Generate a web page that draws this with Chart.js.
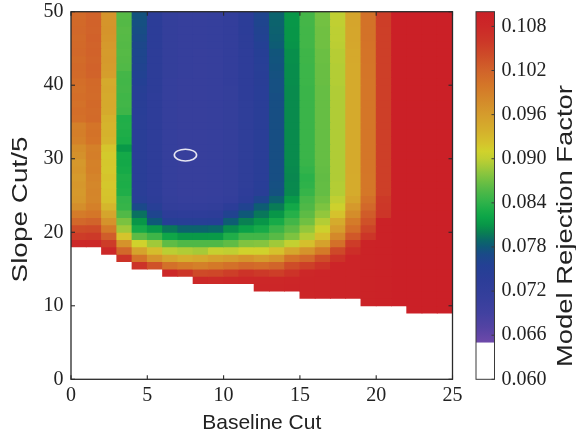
<!DOCTYPE html>
<html>
<head>
<meta charset="utf-8">
<script src="https://cdn.jsdelivr.net/npm/chart.js@4.4.1/dist/chart.umd.min.js"></script>
<style>
  html, body { margin: 0; padding: 0; background: #ffffff; }
  #wrap { position: relative; width: 576px; height: 438px; }
</style>
</head>
<body>
<div id="wrap"><canvas id="c" width="576" height="438"></canvas></div>
<script>
const _ = null;

// Left edge of each 1-wide Baseline Cut cell
const baselineCuts = [0,1,2,3,4,5,6,7,8,9,10,11,12,13,14,15,16,17,18,19,20,21,22,23,24];
// Lower edge of each 1-tall Slope Cut/5 row
const slopeCuts = [0,1,2,3,4,5,6,7,8,9,10,11,12,13,14,15,16,17,18,19,20,21,22,23,24,
                   25,26,27,28,29,30,31,32,33,34,35,36,37,38,39,40,41,42,43,44,45,46,47,48,49];

// Model rejection factor x 1000, one row per slope cut (bottom -> top), one value per baseline cut.
// null = below colour range (drawn white)
const rejectionMilli = [
/* 0*/ [_,_,_,_,_,_,_,_,_,_,_,_,_,_,_,_,_,_,_,_,_,_,_,_,_],
/* 1*/ [_,_,_,_,_,_,_,_,_,_,_,_,_,_,_,_,_,_,_,_,_,_,_,_,_],
/* 2*/ [_,_,_,_,_,_,_,_,_,_,_,_,_,_,_,_,_,_,_,_,_,_,_,_,_],
/* 3*/ [_,_,_,_,_,_,_,_,_,_,_,_,_,_,_,_,_,_,_,_,_,_,_,_,_],
/* 4*/ [_,_,_,_,_,_,_,_,_,_,_,_,_,_,_,_,_,_,_,_,_,_,_,_,_],
/* 5*/ [_,_,_,_,_,_,_,_,_,_,_,_,_,_,_,_,_,_,_,_,_,_,_,_,_],
/* 6*/ [_,_,_,_,_,_,_,_,_,_,_,_,_,_,_,_,_,_,_,_,_,_,_,_,_],
/* 7*/ [_,_,_,_,_,_,_,_,_,_,_,_,_,_,_,_,_,_,_,_,_,_,_,_,_],
/* 8*/ [_,_,_,_,_,_,_,_,_,_,_,_,_,_,_,_,_,_,_,_,_,_,_,_,_],
/* 9*/ [_,_,_,_,_,_,_,_,_,_,_,_,_,_,_,_,_,_,_,_,_,_,110,110,110],
/*10*/ [_,_,_,_,_,_,_,_,_,_,_,_,_,_,_,_,_,_,_,109.2,109.4,110,110,110,110],
/*11*/ [_,_,_,_,_,_,_,_,_,_,_,_,_,_,_,108.5,108.8,109,109,109.2,109.4,110,110,110,110],
/*12*/ [_,_,_,_,_,_,_,_,_,_,_,_,108.5,108.6,108.8,108.8,108.8,109,109,109.2,109.4,110,110,110,110],
/*13*/ [_,_,_,_,_,_,_,_,108,107.8,108,108.2,108.2,108.3,108.6,108.8,108.8,109,109,109.2,109.4,110,110,110,110],
/*14*/ [_,_,_,_,_,_,108,106.3,104.2,104.5,105.3,106.5,105.8,105.3,106.5,108.3,108.8,109,109,109.2,109.4,110,110,110,110],
/*15*/ [_,_,_,_,106.5,103.5,100.5,99.6,99,99.7,100.5,101.5,101,101.8,104,105.2,106.6,109,109,109.2,109.4,110,110,110,110],
/*16*/ [_,_,_,106.5,100.3,96.8,95,94,94.6,95.4,96,96.8,96,97,100.3,101.5,104,106.6,109,109.2,109.4,110,110,110,110],
/*17*/ [_,_,108,101.5,95.2,92.6,89.8,89.4,89,90.4,90,91,91,92.3,94.8,97,99.6,104.3,107.2,109.2,109.4,110,110,110,110],
/*18*/ [108,108,105.5,97,91,88.8,86.3,85.6,85.6,85.6,86.3,87.6,87.8,88.8,90.2,92.5,95.5,100.6,105.5,109.2,109.4,110,110,110,110],
/*19*/ [105.5,105.8,102.5,92,86.2,84.8,82.2,81.2,81.2,81.3,83.3,85,85,86,87.5,89.5,92.5,98,103,106.2,109.4,110,110,110,110],
/*20*/ [104,104.2,99.6,88.8,82.7,81.2,79.6,78.6,78.6,78.9,80.6,81.8,82.8,84.6,86.2,88.3,90.8,95.8,100.8,104.8,109.4,110,110,110,110],
/*21*/ [101.5,102,97,87.4,81,78,75,74.8,74.8,75,78.3,80,81,82.8,85,87,89.5,94.3,99.5,103.6,109.4,110,110,110,110],
/*22*/ [99.5,100,95,85.7,79.3,76.3,73.2,73,73,73.2,76,78,79.6,81,83.6,86.2,88.3,92.2,97.6,102.6,106.3,110,110,110,110],
/*23*/ [97.5,99,93.3,84.4,76.8,74.5,72,71.8,71.8,72,73.5,76,78.3,79.8,82.5,85.6,87.5,90.8,96.3,101.5,106,110,110,110,110],
/*24*/ [96.5,98.3,92.2,84.2,74.5,73.3,71.4,71,71,71.2,71.8,73.5,76.2,78.5,81.2,85.2,86.9,90,95,100.6,105.8,110,110,110,110],
/*25*/ [96.3,98.4,92,83.3,74,73.1,71.3,70.9,70.8,71,71.6,72.9,74.3,77.5,80.4,84.4,86.5,89.5,94.3,99.9,105.2,110,110,110,110],
/*26*/ [96.5,98.2,91.8,83.1,74,73.1,71.3,70.9,70.8,71,71.6,72.8,74.2,77.4,80.4,84,86.5,89.5,94.3,99.9,105.2,110,110,110,110],
/*27*/ [96.2,98.5,92,83.2,73.9,73,71.2,70.9,70.8,71,71.6,72.8,74.1,77.3,80.3,83.8,86.4,89.4,94.3,99.9,105.2,110,110,110,110],
/*28*/ [96.6,99,91.7,82.7,74,73,71.2,70.8,70.8,71,71.6,72.8,74.1,77.3,80.4,84.2,86.5,89.4,94.4,100,105.2,110,110,110,110],
/*29*/ [96.4,98.8,91.8,82.5,74,73.1,71.3,70.9,70.8,71,71.6,72.8,74.1,77.3,80.5,84.5,86.6,89.4,94.4,100,105.2,110,110,110,110],
/*30*/ [97.2,99.2,91.6,82.6,73.9,73.1,71.3,70.9,70.8,71,71.6,72.8,74.1,77.3,80.5,84.6,86.6,89.4,94.4,100,105.2,110,110,110,110],
/*31*/ [97.6,99,91.9,81.2,74,73,71.2,70.8,70.8,71,71.6,72.8,74.1,77.3,80.5,84.6,86.6,89.4,94.4,100,105.2,110,110,110,110],
/*32*/ [98.8,100.2,93.4,83,74.1,73.1,71.3,70.9,70.8,71,71.6,72.8,74.1,77.3,80.5,84.6,86.6,89.4,94.4,100,105.2,110,110,110,110],
/*33*/ [99.2,100.4,93.6,83.2,74,73.1,71.3,70.9,70.8,71,71.6,72.8,74.1,77.3,80.5,84.6,86.6,89.4,94.4,100,105.2,110,110,110,110],
/*34*/ [99,100.2,93.5,83.4,74,73.1,71.3,70.9,70.8,71,71.6,72.8,74.1,77.3,80.5,84.6,86.6,89.4,94.4,100,105.2,110,110,110,110],
/*35*/ [100.6,101.3,93.7,83.3,74.1,73.1,71.3,70.9,70.9,71.1,71.6,72.8,74.1,77.3,80.5,84.6,86.6,89.4,94.4,100,105.2,110,110,110,110],
/*36*/ [100.8,101.2,94.4,84.8,74.2,73.1,71.3,70.9,70.9,71.1,71.6,72.8,74.1,77.3,80.5,84.6,86.6,89.4,94.4,100,105.2,110,110,110,110],
/*37*/ [100.5,101.4,94.6,85,74.3,73.1,71.3,70.9,70.9,71.1,71.6,72.8,74.1,77.3,80.5,84.6,86.6,89.4,94.4,100,105.2,110,110,110,110],
/*38*/ [100.8,101.2,94.5,84.9,74.4,73.1,71.3,70.9,70.9,71.1,71.6,72.9,74.2,77.3,80.5,84.6,86.6,89.4,94.4,100,105.2,110,110,110,110],
/*39*/ [100.6,101.3,94.7,85.1,74.8,73.2,71.3,70.9,70.9,71.1,71.6,72.9,74.2,77.4,80.5,84.6,86.6,89.4,94.4,100,105.2,110,110,110,110],
/*40*/ [100.8,101.4,94.5,85,75.5,73.2,71.3,70.9,70.9,71.1,71.7,72.9,74.3,77.4,80.6,84.7,86.7,89.5,94.5,100,105.2,110,110,110,110],
/*41*/ [101.3,102,95.8,85.1,75.8,73.2,71.4,71,70.9,71.1,71.7,73,74.4,77.5,80.6,84.7,86.7,89.5,94.5,100.1,105.2,110,110,110,110],
/*42*/ [101.4,102.1,96,85.7,76,73.3,71.4,71,70.9,71.1,71.7,73,74.5,77.6,80.6,84.7,86.7,89.5,94.5,100.1,105.2,110,110,110,110],
/*43*/ [101.2,101.9,96.2,85.8,76.2,73.3,71.4,71,70.9,71.1,71.7,73,74.7,77.7,80.7,84.8,86.8,89.6,94.6,100.2,105.2,110,110,110,110],
/*44*/ [101.5,102.1,96.1,85.9,76.4,73.3,71.4,71,70.9,71.1,71.7,73.1,75,77.8,80.7,84.8,86.8,89.6,94.6,100.2,105.2,110,110,110,110],
/*45*/ [101.4,102,96.3,85.8,76.6,73.4,71.4,71,71,71.2,71.8,73.3,75.5,78.2,80.9,85,87,89.8,94.8,100.3,105.2,110,110,110,110],
/*46*/ [101.3,102.2,96.6,85.9,77,73.4,71.4,71,71,71.2,71.8,73.3,75.8,78.4,81,85,87,89.9,94.9,100.4,105.2,110,110,110,110],
/*47*/ [101.5,102,96.8,86,77.2,73.5,71.5,71.1,71,71.2,71.8,73.4,76,78.5,81,85,87,89.9,94.9,100.4,105.2,110,110,110,110],
/*48*/ [101.4,102.1,96.7,85.8,77.4,73.5,71.5,71.1,71,71.2,71.8,73.4,76.2,78.6,81.1,85.1,87.1,90,95,100.4,105.3,110,110,110,110],
/*49*/ [101.3,102,96.8,85.9,77.6,73.6,71.5,71.1,71,71.2,71.9,73.5,76.3,78.6,81.1,85.1,87.1,90,95,100.5,105.3,110,110,110,110]
];

const xTickValues = [0, 5, 10, 15, 20, 25];
const yTickValues = [0, 10, 20, 30, 40, 50];
const cbTickValues = [0.060, 0.066, 0.072, 0.078, 0.084, 0.090, 0.096, 0.102, 0.108];
const optimumCut = [7.5, 30.5];

// ---- colour map (style) ----
const CB_MIN = 0.060, CB_LOW = 0.065, CB_MAX = 0.110;
const cmap = [
  [0.065,'#6E49AA'],[0.067,'#5443A3'],[0.069,'#4141A0'],[0.071,'#363F9C'],[0.0735,'#2C3D98'],
  [0.0755,'#244094'],[0.077,'#1A4A88'],[0.078,'#0F5878'],[0.079,'#0A6A66'],[0.080,'#098052'],
  [0.081,'#089648'],[0.082,'#0CA448'],[0.083,'#1AAC48'],[0.084,'#2EB24A'],[0.085,'#42B648'],
  [0.086,'#58BA46'],[0.087,'#70C042'],[0.088,'#8AC53E'],[0.089,'#A6CA38'],[0.090,'#C0CF32'],
  [0.091,'#D0D22C'],[0.092,'#D5C42C'],[0.094,'#D5AE2C'],[0.096,'#D59C2C'],[0.098,'#D4892A'],
  [0.100,'#D47628'],[0.102,'#D1632A'],[0.104,'#CE4C28'],[0.106,'#CC3728'],[0.108,'#CC2828'],
  [0.110,'#CB2027']
];
function hexRgb(h) { return [1,3,5].map(i => parseInt(h.substr(i, 2), 16)); }
const cmapRgb = cmap.map(([v, c]) => [v, hexRgb(c)]);
function colorFor(v) {
  if (v == null || v < CB_LOW) return '#ffffff';
  if (v >= CB_MAX) return cmap[cmap.length - 1][1];
  for (let i = 1; i < cmapRgb.length; i++) {
    const [v1, c1] = cmapRgb[i];
    if (v <= v1) {
      const [v0, c0] = cmapRgb[i - 1];
      const t = (v - v0) / (v1 - v0);
      const c = c0.map((a, k) => Math.round(a + (c1[k] - a) * t));
      return `rgb(${c[0]},${c[1]},${c[2]})`;
    }
  }
  return cmap[cmap.length - 1][1];
}

// ---- cells (floating bars) ----
const cells = [];
slopeCuts.forEach((y0, r) => {
  baselineCuts.forEach((x0, c) => {
    const m = rejectionMilli[r][c];
    if (m == null) return;
    cells.push({ x: x0 + 0.5, y: [y0, y0 + 1], v: m / 1000 });
  });
});

const TEXT = '#222222';
const SERIF = "'Liberation Serif', 'Times New Roman', serif";
const SANS = "'Liberation Sans', Arial, sans-serif";

function drawStretchedVertical(ctx, text, cx, cy, targetLen, size) {
  ctx.save();
  ctx.translate(cx, cy);
  ctx.rotate(-Math.PI / 2);
  ctx.font = `${size}px ${SANS}`;
  const w = ctx.measureText(text).width;
  ctx.scale(targetLen / w, 1);
  ctx.textAlign = 'center';
  ctx.textBaseline = 'middle';
  ctx.fillStyle = TEXT;
  ctx.fillText(text, 0, 0);
  ctx.restore();
}

const decor = {
  id: 'decor',
  afterDraw(chart) {
    const { ctx, chartArea: a } = chart;
    const x = chart.scales.x, y = chart.scales.y, cb = chart.scales.cb;
    const line = (x1, y1, x2, y2) => { ctx.beginPath(); ctx.moveTo(x1, y1); ctx.lineTo(x2, y2); ctx.stroke(); };
    ctx.save();
    // optimum marker
    const ex = x.getPixelForValue(optimumCut[0]);
    const ey = y.getPixelForValue(optimumCut[1]);
    const rx = Math.abs(x.getPixelForValue(optimumCut[0] + 0.73) - ex);
    const ry = Math.abs(y.getPixelForValue(optimumCut[1] + 0.8) - ey);
    ctx.beginPath();
    ctx.ellipse(ex, ey, rx, ry, 0, 0, Math.PI * 2);
    ctx.strokeStyle = '#E6E6F2';
    ctx.lineWidth = 1.6;
    ctx.stroke();
    // frame
    ctx.strokeStyle = '#2a2a2a';
    ctx.lineWidth = 1.3;
    ctx.strokeRect(a.left, a.top, a.right - a.left, a.bottom - a.top);
    // inward ticks, all four sides
    ctx.lineWidth = 1.1;
    const tl = 4;
    xTickValues.forEach(v => {
      const px = x.getPixelForValue(v);
      line(px, a.bottom, px, a.bottom - tl);
      line(px, a.top, px, a.top + tl);
    });
    yTickValues.forEach(v => {
      const py = y.getPixelForValue(v);
      line(a.left, py, a.left + tl, py);
      line(a.right, py, a.right - tl, py);
    });
    // colour bar
    const cbL = a.right + 23.5, cbW = 18.5;
    const top = cb.getPixelForValue(CB_MAX), bot = cb.getPixelForValue(CB_MIN), wh = cb.getPixelForValue(CB_LOW);
    ctx.fillStyle = '#ffffff';
    ctx.fillRect(cbL, wh, cbW, bot - wh);
    const g = ctx.createLinearGradient(0, wh, 0, top);
    cmap.forEach(([v, c]) => g.addColorStop((v - CB_LOW) / (CB_MAX - CB_LOW), c));
    ctx.fillStyle = g;
    ctx.fillRect(cbL, top, cbW, wh - top);
    ctx.strokeStyle = '#3a3a3a';
    ctx.lineWidth = 1;
    ctx.strokeRect(cbL, top, cbW, bot - top);
    cbTickValues.forEach(v => {
      const py = cb.getPixelForValue(v);
      line(cbL + cbW, py, cbL + cbW - 3, py);
    });
    // rotated titles
    drawStretchedVertical(ctx, 'Slope Cut/5', 21, 209.5, 146, 22);
    drawStretchedVertical(ctx, 'Model Rejection Factor', 566, 226, 282, 22);
    ctx.restore();
  }
};

// invisible tick marks are used only to offset the tick labels horizontally
const hiddenTickGrid = (len) => ({ display: true, drawOnChartArea: false, drawTicks: true, tickLength: len,
                                    tickColor: 'rgba(0,0,0,0)', color: 'rgba(0,0,0,0)' });

new Chart(document.getElementById('c').getContext('2d'), {
  type: 'bar',
  data: {
    datasets: [{
      data: cells,
      backgroundColor: (c) => (c.raw ? colorFor(c.raw.v) : '#ffffff'),
      borderWidth: 0,
      barPercentage: 1,
      categoryPercentage: 1,
      grouped: false,
      inflateAmount: 0.4
    }]
  },
  options: {
    responsive: false,
    animation: false,
    devicePixelRatio: 1,
    events: [],
    layout: { padding: { top: 11.7, left: 0, right: 0, bottom: 0 } },
    plugins: { legend: { display: false }, tooltip: { enabled: false } },
    scales: {
      x: {
        type: 'linear', position: 'bottom', min: 0, max: 25, offset: false,
        grid: { display: false, drawTicks: false, offset: false },
        border: { display: false },
        afterBuildTicks: (s) => { s.ticks = xTickValues.map(v => ({ value: v })); },
        afterFit: (s) => { s.height = 58.7; },
        ticks: { font: { family: SERIF, size: 20 }, color: TEXT, padding: 4.5, maxRotation: 0, autoSkip: false,
                 callback: (v) => String(v) },
        title: { display: true, text: 'Baseline Cut', font: { family: SANS, size: 21 }, color: TEXT,
                 padding: { top: 0, bottom: 2 } }
      },
      y: {
        type: 'linear', position: 'left', min: 0, max: 50,
        grid: hiddenTickGrid(7.5),
        border: { display: false },
        afterBuildTicks: (s) => { s.ticks = yTickValues.map(v => ({ value: v })); },
        afterFit: (s) => { s.width = 71; },
        ticks: { font: { family: SERIF, size: 20, lineHeight: 1 }, color: TEXT, padding: 0, autoSkip: false,
                 callback: (v) => String(v) }
      },
      cb: {
        type: 'linear', axis: 'y', position: 'right', min: CB_MIN, max: CB_MAX,
        grid: hiddenTickGrid(49),
        border: { display: false },
        afterBuildTicks: (s) => { s.ticks = cbTickValues.map(v => ({ value: v })); },
        afterFit: (s) => { s.width = 123.5; },
        ticks: { font: { family: SERIF, size: 20, lineHeight: 1 }, color: TEXT, padding: 0, autoSkip: false,
                 callback: (v) => Number(v).toFixed(3) }
      }
    }
  },
  plugins: [decor]
});
</script>
</body>
</html>
